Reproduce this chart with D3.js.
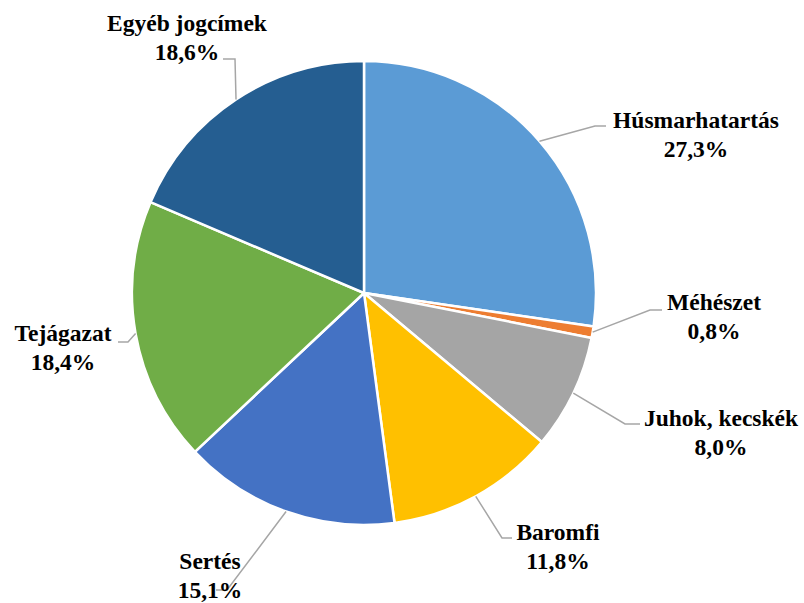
<!DOCTYPE html>
<html>
<head>
<meta charset="utf-8">
<script src="https://cdn.jsdelivr.net/npm/d3@7"></script>
<style>
  html, body { margin: 0; padding: 0; background: #fff; }
  svg { display: block; }
</style>
</head>
<body>
<svg id="chart" width="804" height="603"></svg>
<script>
// Data
const categories = ["Húsmarhatartás", "Méhészet", "Juhok, kecskék", "Baromfi", "Sertés", "Tejágazat", "Egyéb jogcímek"];
const values = [27.3, 0.8, 8.0, 11.8, 15.1, 18.4, 18.6];
const valueLabels = ["27,3%", "0,8%", "8,0%", "11,8%", "15,1%", "18,4%", "18,6%"];
const colors = ["#5B9BD5", "#ED7D31", "#A5A5A5", "#FFC000", "#4472C4", "#70AD47", "#255E91"];

// Layout (label anchor: center x, first-line baseline; leader elbow and end)
const labelLayout = [
  { x: 696, y: 128, ex: 595, ey: 126, hx: 606 },
  { x: 714, y: 310, ex: 650, ey: 310, hx: 662 },
  { x: 721, y: 426, ex: 625, ey: 424, hx: 640 },
  { x: 558, y: 540, ex: 502, ey: 538, hx: 512 },
  { x: 210, y: 569, ex: 227, ey: 590, hx: 216 },
  { x: 63,  y: 341, ex: 128, ey: 342, hx: 118 },
  { x: 187, y: 31,  ex: 235, ey: 59,  hx: 223 }
];

const cx = 364, cy = 293, r = 232;
const svg = d3.select("#chart");
const g = svg.append("g").attr("transform", `translate(${cx},${cy})`);

const data = categories.map((c, i) => ({ name: c, value: values[i], label: valueLabels[i], color: colors[i], i }));
const pie = d3.pie().value(d => d.value).sort(null);
const arcs = pie(data);
const arc = d3.arc().innerRadius(0).outerRadius(r);

g.selectAll("path.slice")
  .data(arcs)
  .enter().append("path")
  .attr("class", "slice")
  .attr("d", arc)
  .attr("fill", d => d.data.color)
  .attr("stroke", "#fff")
  .attr("stroke-width", 2.5)
  .attr("stroke-linejoin", "round");

// Leader lines
const lines = svg.append("g");
arcs.forEach(a => {
  const mid = (a.startAngle + a.endAngle) / 2;
  const sx = cx + r * Math.sin(mid);
  const sy = cy - r * Math.cos(mid);
  const L = labelLayout[a.data.i];
  lines.append("polyline")
    .attr("points", `${sx},${sy} ${L.ex},${L.ey} ${L.hx},${L.ey}`)
    .attr("fill", "none")
    .attr("stroke", "#A6A6A6")
    .attr("stroke-width", 1.5);
});

// Labels
const labels = svg.append("g");
arcs.forEach(a => {
  const L = labelLayout[a.data.i];
  [a.data.name, a.data.label].forEach((s, k) => {
    labels.append("text")
      .attr("x", L.x)
      .attr("y", L.y + k * 28.5)
      .attr("text-anchor", "middle")
      .attr("font-family", "Liberation Serif")
      .attr("font-weight", "bold")
      .attr("font-size", 23.5)
      .attr("fill", "#000")
      .text(s);
  });
});
</script>
</body>
</html>
